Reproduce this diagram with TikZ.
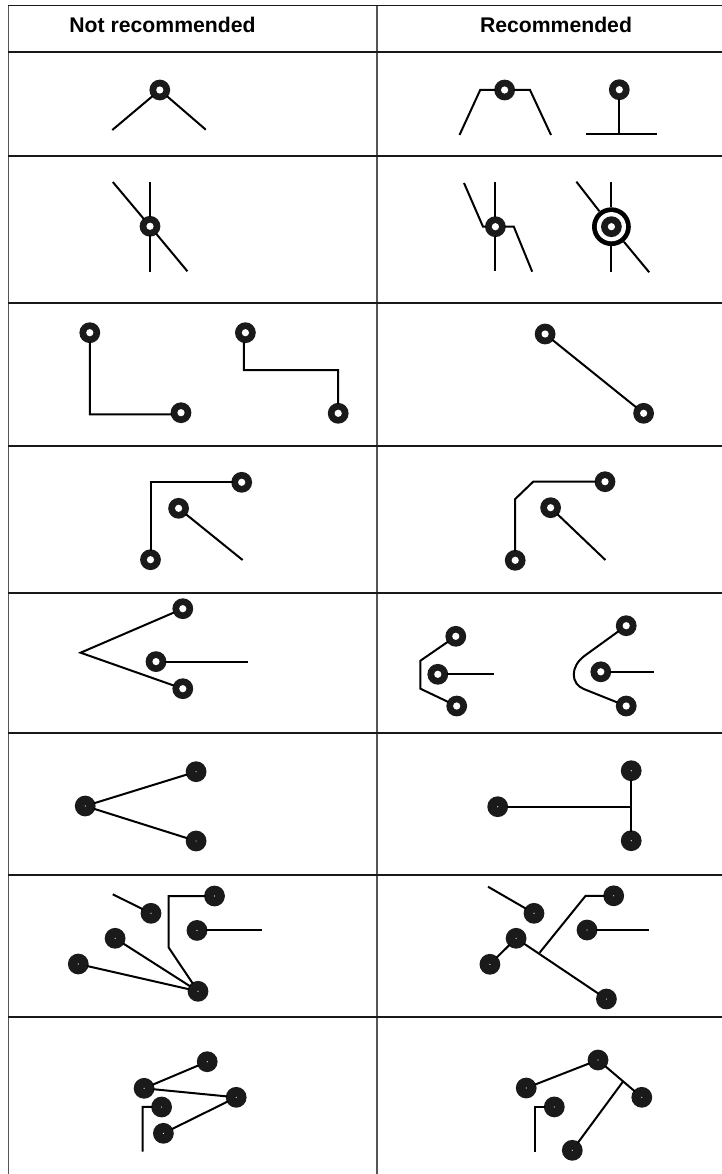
\documentclass[tikz,border=0pt]{standalone}
\usepackage{fontspec}
\setmainfont{Liberation Sans}
\definecolor{padc}{HTML}{1A1A1A}
\definecolor{vline}{HTML}{555555}
\tikzset{
  hpad/.style={circle,fill=padc,minimum size=20.8pt,inner sep=0pt,outer sep=-1.2pt,
    path picture={\fill[white] (path picture bounding box.center) circle (3.6pt);}},
  spad/.style={circle,fill=padc,minimum size=20.8pt,inner sep=0pt,outer sep=-1.2pt,
    path picture={\fill[white] (path picture bounding box.center) circle (0.6pt);}},
  ringpad/.style={circle,fill=black,minimum size=38.8pt,inner sep=0pt,
    path picture={\fill[white] (path picture bounding box.center) circle (14.6pt);}},
  trace/.style={draw=black,line width=2pt,line join=miter},
  hrule/.style={draw=black!90,line width=1.1pt},
  vrule/.style={draw=vline,line width=1.1pt},
  head/.style={font=\fontsize{21.2pt}{24pt}\selectfont\bfseries,inner sep=0pt,anchor=base}
}
\begin{document}
\begin{tikzpicture}[x=1pt,y=-1pt]
\useasboundingbox (0,0) rectangle (722,1174);
% grid
\coordinate (tl) at (8.3,5.3); \coordinate (tr) at (722,5.3);
\coordinate (bl) at (8.3,1174); \coordinate (tm) at (377,5.3); \coordinate (bm) at (377,1174);
\draw[vrule] (tl) -- (bl);
\draw[vrule] (tm) -- (bm);
\draw[hrule] (tl) -- (tr);
\foreach \yy in {52,156,303,446,593,733,875,1017}{
  \draw[hrule] (8.3,\yy) -- (722,\yy);
}
\node[head] (h1) at (162.5,33) {Not recommended};
\node[head] (h2) at (556,33) {Recommended};
% row 1
\node[hpad] (r1a) at (159.8,90) {};
\coordinate (r1a1) at (112.3,130); \coordinate (r1a2) at (205.8,129.7);
\draw[trace] (r1a1) -- (r1a); \draw[trace] (r1a) -- (r1a2);
\node[hpad] (r1b) at (504.6,90) {};
\coordinate (r1b1) at (459.5,135); \coordinate (r1b2) at (480.2,90); \coordinate (r1b3) at (530,90); \coordinate (r1b4) at (551,135);
\draw[trace] (r1b1) -- (r1b2) -- (r1b); \draw[trace] (r1b) -- (r1b3) -- (r1b4);
\node[hpad] (r1c) at (619.3,89.7) {};
\coordinate (r1c1) at (619.3,133.7); \coordinate (r1c2) at (585.6,133.7); \coordinate (r1c3) at (656.5,133.7);
\draw[trace] (r1c) -- (r1c1); \draw[trace] (r1c2) -- (r1c3);
% row 2
\node[hpad] (r2a) at (150,226.3) {};
\coordinate (r2a1) at (150,181.7); \coordinate (r2a2) at (150,271.7); \coordinate (r2a3) at (112.8,182); \coordinate (r2a4) at (187.4,271.3);
\draw[trace] (r2a1) -- (r2a); \draw[trace] (r2a) -- (r2a2); \draw[trace] (r2a3) -- (r2a); \draw[trace] (r2a) -- (r2a4);
\node[hpad] (r2b) at (495.4,226.7) {};
\coordinate (r2b1) at (495.4,182); \coordinate (r2b2) at (495.4,271.3); \coordinate (r2b3) at (464,183); \coordinate (r2b4) at (483,226.7); \coordinate (r2b5) at (513.8,226.7); \coordinate (r2b6) at (532.2,271.7);
\draw[trace] (r2b1) -- (r2b); \draw[trace] (r2b) -- (r2b2); \draw[trace] (r2b3) -- (r2b4) -- (r2b); \draw[trace] (r2b) -- (r2b5) -- (r2b6);
\node[ringpad] (r2r) at (611.4,226.7) {};
\node[hpad] (r2c) at (611.4,226.7) {};
\coordinate (r2c1) at (611.4,182); \coordinate (r2c2) at (611.4,271.7); \coordinate (r2c3) at (576.4,181.7); \coordinate (r2c4) at (649.2,272.3);
\draw[trace] (r2c1) -- (r2r); \draw[trace] (r2r) -- (r2c2); \draw[trace] (r2c3) -- (r2r); \draw[trace] (r2r) -- (r2c4);
% row 3
\node[hpad] (r3a) at (89.8,332.7) {};
\node[hpad] (r3b) at (181,412.7) {};
\coordinate (r3ab) at (89.8,414.3);
\draw[trace] (r3a) -- (r3ab) -- (r3b.190);
\node[hpad] (r3c) at (245.4,332.7) {};
\node[hpad] (r3d) at (338.2,413.3) {};
\coordinate (r3c2) at (243.8,370); \coordinate (r3c3) at (338.2,370);
\draw[trace] (r3c.261) -- (r3c2) -- (r3c3) -- (r3d);
\node[hpad] (r3e) at (545.1,334) {};
\node[hpad] (r3f) at (643.6,413.3) {};
\draw[trace] (r3e) -- (r3f);
% row 4
\node[hpad] (r4a) at (241.7,482.3) {};
\node[hpad] (r4b) at (150.5,559.7) {};
\coordinate (r4ab) at (150.5,482.3);
\draw[trace] (r4b) -- (r4ab) -- (r4a);
\node[hpad] (r4c) at (178.6,508.3) {};
\coordinate (r4c1) at (242.6,560);
\draw[trace] (r4c) -- (r4c1);
\node[hpad] (r4d) at (605,481.7) {};
\node[hpad] (r4e) at (515.2,560.3) {};
\coordinate (r4e1) at (515.2,499); \coordinate (r4e2) at (533.2,481.7);
\draw[trace] (r4e) -- (r4e1) -- (r4e2) -- (r4d);
\node[hpad] (r4f) at (550.6,507.7) {};
\coordinate (r4f1) at (605.4,560);
\draw[trace] (r4f) -- (r4f1);
% row 5
\node[hpad] (r5a) at (182.8,608.7) {};
\node[hpad] (r5b) at (182.8,688.7) {};
\node[hpad] (r5c) at (156,661.6) {};
\coordinate (r5a1) at (80.6,652.7); \coordinate (r5c1) at (247.7,661.6);
\draw[trace] (r5a) -- (r5a1) -- (r5b);
\draw[trace] (r5c) -- (r5c1);
\node[hpad] (r5d) at (455.8,636.3) {};
\node[hpad] (r5e) at (456.7,706) {};
\node[hpad] (r5f) at (437.8,674.3) {};
\coordinate (r5d1) at (420.4,660.7); \coordinate (r5d2) at (420.4,688.7); \coordinate (r5f1) at (494,674.3);
\draw[trace] (r5d) -- (r5d1) -- (r5d2) -- (r5e);
\draw[trace] (r5f) -- (r5f1);
\node[hpad] (r5g) at (626.2,625.7) {};
\node[hpad] (r5h) at (626.2,706) {};
\node[hpad] (r5i) at (600.8,671.8) {};
\coordinate (r5g1) at (584.7,655.7); \coordinate (r5g2) at (583.8,689); \coordinate (r5i1) at (654.2,671.8);
\coordinate (r5k1) at (569.7,666.7); \coordinate (r5k2) at (570.8,684);
\draw[trace] (r5g) -- (r5g1) .. controls (r5k1) and (r5k2) .. (r5g2) -- (r5h);
\draw[trace] (r5i) -- (r5i1);
% row 6
\node[spad] (r6a) at (85.2,806) {};
\node[spad] (r6b) at (196.1,771.7) {};
\node[spad] (r6c) at (196.1,841) {};
\draw[trace] (r6a) -- (r6b); \draw[trace] (r6a) -- (r6c);
\node[spad] (r6d) at (497.7,806.7) {};
\node[spad] (r6e) at (631.2,770.7) {};
\node[spad] (r6f) at (631.2,840.7) {};
\coordinate (r6j) at (631.2,806.7);
\draw[trace] (r6e) -- (r6f); \draw[trace] (r6d) -- (r6j);
% row 7
\node[spad] (r7a) at (151,913.3) {};
\coordinate (r7a1) at (112.8,894.3);
\draw[trace] (r7a1) -- (r7a);
\node[spad] (r7b) at (214.5,896) {};
\node[spad] (r7c) at (198,991.3) {};
\coordinate (r7b1) at (168.5,896); \coordinate (r7b2) at (168.5,947.3);
\draw[trace] (r7b) -- (r7b1) -- (r7b2) -- (r7c);
\node[spad] (r7d) at (197,930.4) {};
\coordinate (r7d1) at (262,930.4);
\draw[trace] (r7d) -- (r7d1);
\node[spad] (r7e) at (115.1,938.3) {};
\node[spad] (r7f) at (78.3,964) {};
\draw[trace] (r7e) -- (r7c); \draw[trace] (r7f) -- (r7c);
\node[spad] (r7g) at (534,913.3) {};
\coordinate (r7g1) at (488,886.7);
\draw[trace] (r7g1) -- (r7g);
\node[spad] (r7h) at (613.7,895.8) {};
\coordinate (r7h1) at (585.6,895.8); \coordinate (r7h2) at (539.6,952.7);
\draw[trace] (r7h) -- (r7h1) -- (r7h2);
\node[spad] (r7i) at (587,930) {};
\coordinate (r7i1) at (648.7,930);
\draw[trace] (r7i) -- (r7i1);
\node[spad] (r7j) at (516.1,938.3) {};
\node[spad] (r7k) at (489.9,964.3) {};
\node[spad] (r7l) at (606.4,999) {};
\draw[trace] (r7j) -- (r7k); \draw[trace] (r7j) -- (r7l);
% row 8
\node[spad] (r8a) at (207.2,1061.7) {};
\node[spad] (r8b) at (144.1,1088.3) {};
\node[spad] (r8c) at (236.2,1097.3) {};
\node[spad] (r8d) at (161.6,1107) {};
\node[spad] (r8e) at (163.4,1133.3) {};
\coordinate (r8d1) at (142.7,1106.8); \coordinate (r8d2) at (142.7,1151.7);
\draw[trace] (r8a) -- (r8b); \draw[trace] (r8b) -- (r8c); \draw[trace] (r8c) -- (r8e);
\draw[trace] (r8d) -- (r8d1) -- (r8d2);
\node[spad] (r8f) at (598,1060) {};
\node[spad] (r8g) at (526.2,1088) {};
\node[spad] (r8h) at (641.8,1097.3) {};
\node[spad] (r8i) at (554.3,1106.9) {};
\node[spad] (r8j) at (572.3,1150.3) {};
\coordinate (r8j1) at (622.9,1081.7); \coordinate (r8i1) at (534.5,1106.9); \coordinate (r8i2) at (534.5,1151.7);
\draw[trace] (r8f) -- (r8g); \draw[trace] (r8f) -- (r8h); \draw[trace] (r8j) -- (r8j1);
\draw[trace] (r8i) -- (r8i1) -- (r8i2);
\end{tikzpicture}
\end{document}
